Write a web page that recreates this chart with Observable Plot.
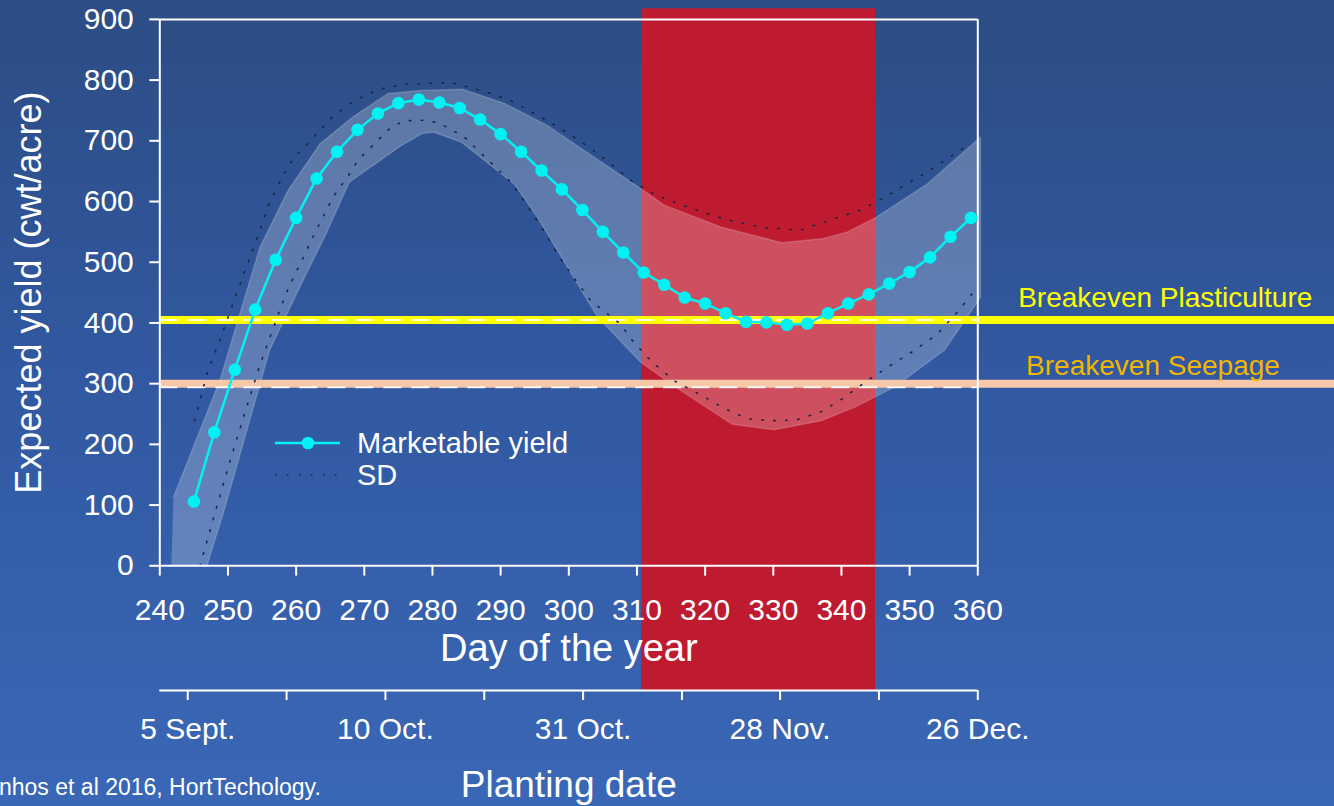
<!DOCTYPE html>
<html>
<head>
<meta charset="utf-8">
<script src="https://cdn.jsdelivr.net/npm/d3@7"></script>
<script src="https://cdn.jsdelivr.net/npm/@observablehq/plot@0.6"></script>
<style>
  html, body { margin: 0; padding: 0; }
  body {
    width: 1334px; height: 806px; overflow: hidden; position: relative;
    background: linear-gradient(180deg, #2c4d84 0%, #3158a0 45%, #3a67b6 100%);
    font-family: "Liberation Sans", Arial, Helvetica, sans-serif;
  }
  #chart { position: absolute; left: 0; top: 0; }
  #legend { position: absolute; left: 275px; top: 427px; color: white; font-size: 29px; }
  #legend .row { display: flex; align-items: center; height: 32px; }
  #legend svg { display: block; margin-right: 17px; }
  #caption { position: absolute; left: -1px; top: 774px; color: white; font-size: 23px; line-height: 26px; white-space: nowrap; }
</style>
</head>
<body>
<div id="chart"></div>
<div id="legend">
  <div class="row">
    <svg width="65" height="32"><line x1="0" y1="16" x2="65" y2="16" stroke="#00F2F2" stroke-width="2.5"/><circle cx="33" cy="16" r="6.3" fill="#00F2F2"/></svg>
    <span>Marketable yield</span>
  </div>
  <div class="row">
    <svg width="65" height="32"><line x1="0" y1="16" x2="62" y2="16" stroke="#1b2540" stroke-width="1.6" stroke-dasharray="1.5,10.5"/></svg>
    <span>SD</span>
  </div>
</div>
<div id="caption">nhos et al 2016, HortTechology.</div>
<script>
// ---- data ----
const days = [245,248,251,254,257,260,263,266,269,272,275,278,281,284,287,290,293,296,299,302,305,308,311,314,317,320,323,326,329,332,335,338,341,344,347,350,353,356,359];
const marketableYield = [106,220,323,422,504,573,638,682,718,745,762,768,763,754,735,711,682,651,620,586,550,516,483,463,442,432,416,402,401,397,399,416,432,447,465,484,508,542,573];

const sdUpperDays   = [245.1,247.0,249.0,251.0,252.9,254.5,256.0,257.7,259.7,262.1,265.0,268.5,272.1,275.8,282.7,284.4,288.0,291.5,295.1,298.5,302.0,305.6,309.2,312.7,318.1,323.2,328.6,334.0,337.4,342.8,346.2,349.6,353.3,357.0,358.7];
const sdUpperValues = [239,319,378,440,498,547,596,634,673,700,736,766,785,793,796,791,780,766,744,722,697,667,634,611,588,570,557,553,566,586,606,629,654,681,694];

const sdLowerDays   = [245.9,248.2,250.2,252.4,254.6,256.5,258.5,260.1,262.4,264.4,265.4,266.6,267.8,269.0,270.5,272.2,273.9,275.9,279.2,281.2,284.6,288.0,291.5,294.1,296.3,298.3,300.7,303.2,307.6,309.1,312.0,315.4,319.1,322.5,326.2,329.6,333.3,336.9,340.1,343.8,347.2,350.6,354.1,357.0,358.4,359.9];
const sdLowerValues = [0,91,169,249,328,387,448,486,540,585,607,626,645,667,684,703,722,733,734,728,707,670,632,590,552,514,475,437,398,374,338,305,283,261,242,239,240,253,275,305,330,354,382,418,437,459];

const bandUpperDays   = [242.0,244.9,248.8,254.7,258.8,263.5,268.4,273.5,278.1,284.4,290.5,296.9,303.7,310.6,314.0,322.3,331.3,337.4,340.9,344.8,352.6,360.4];
const bandUpperValues = [113,195,305,525,618,695,740,778,783,785,762,725,673,621,594,558,532,539,550,572,629,706];
const bandLowerDays   = [241.7,246.9,249.3,256.1,261.0,264.4,267.8,275.4,278.5,280.2,284.2,292.0,295.4,299.8,304.2,310.6,316.4,324.0,330.1,337.0,341.9,347.7,355.1,360.4];
const bandLowerValues = [0,0,86,355,470,547,632,692,712,714,698,629,574,492,410,335,289,233,224,239,261,294,355,442];

const dayTicks = [240,250,260,270,280,290,300,310,320,330,340,350,360];
const yTicks = [0,100,200,300,400,500,600,700,800,900];
const plantTickDays = [244.1,258.6,273.1,287.6,302.1,316.6,331.0,345.5,360.0];
const plantLabelDays = [244.1,273.1,302.1,331.0,360.0];
const plantLabels = ["5 Sept.","10 Oct.","31 Oct.","28 Nov.","26 Dec."];

const breakevenPlasticulture = 405;
const breakevenSeepage = 300;
const refDashes = [405, 294];
const windowStart = 310.7, windowEnd = 345.0;

// ---- derived tables ----
const yieldData = days.map((d, i) => ({day: d, value: marketableYield[i]}));
const sdUpper = sdUpperDays.map((d, i) => ({day: d, value: sdUpperValues[i]}));
const sdLower = sdLowerDays.map((d, i) => ({day: d, value: sdLowerValues[i]}));
const bandPolygon = [
  ...bandUpperDays.map((d, i) => ({day: d, value: bandUpperValues[i]})),
  ...bandLowerDays.map((d, i) => ({day: d, value: bandLowerValues[i]})).reverse()
];
const plantLabelMap = new Map(plantLabelDays.map((d, i) => [d, plantLabels[i]]));

const yDomain = [-205.4, 931.1];
const white = "white";
const cyan = "#00F2F2";

const chart = Plot.plot({
  width: 1334,
  height: 806,
  marginLeft: 159.3,
  marginRight: 0,
  marginTop: 0,
  marginBottom: 116,
  style: {background: "transparent", color: "white", fontFamily: "Liberation Sans, Arial, sans-serif", overflow: "visible"},
  x: {domain: [240, 412.33]},
  y: {domain: yDomain},
  marks: [
    // planting window
    Plot.rect([{start: windowStart, end: windowEnd}], {x1: "start", x2: "end", y1: yDomain[0], y2: 917.5, fill: "#BE1B31"}),
    // SD band
    Plot.line(bandPolygon, {x: "day", y: "value", fill: "white", fillOpacity: 0.23, stroke: "white", strokeOpacity: 0.18, strokeWidth: 1.5}),
    // breakeven lines
    Plot.ruleY([breakevenPlasticulture], {stroke: "#FFFF00", strokeWidth: 8}),
    Plot.ruleY([breakevenSeepage], {stroke: "#F6C8AA", strokeWidth: 8}),
    Plot.ruleY(refDashes, {x1: 240, x2: 360, stroke: "white", strokeWidth: 2, strokeOpacity: 0.9, strokeDasharray: "18,10"}),
    // SD dotted lines
    Plot.line(sdUpper, {x: "day", y: "value", stroke: "#1b2540", strokeWidth: 1.6, strokeDasharray: "1.5,10.5"}),
    Plot.line(sdLower, {x: "day", y: "value", stroke: "#1b2540", strokeWidth: 1.6, strokeDasharray: "1.5,10.5"}),
    // frame
    Plot.ruleX([240, 360], {y1: 0, y2: 900, stroke: white, strokeWidth: 2}),
    Plot.ruleY([900], {x1: 240, x2: 360, stroke: white, strokeWidth: 2}),
    Plot.ruleY([0], {x1: 240, x2: 360, stroke: white, strokeWidth: 2}),
    // y axis
    Plot.axisY({ticks: yTicks, tickSize: 10, tickPadding: 16, fontSize: 30, color: white, strokeWidth: 2, label: null}),
    // day-of-year axis (at y = 0)
    Plot.ruleX(dayTicks, {x: d => d, y1: 0, y2: -17, stroke: white, strokeWidth: 2}),
    Plot.text(dayTicks, {x: d => d, y: 0, dy: 45, text: d => String(d), fontSize: 30, fill: white}),
    Plot.text(["Day of the year"], {x: 300, y: 0, dy: 83, text: d => d, fontSize: 38, fill: white}),
    // planting date axis (frame bottom)
    Plot.ruleY([yDomain[0]], {x1: 240, x2: 360, stroke: white, strokeWidth: 2}),
    Plot.axisX({ticks: plantTickDays, tickSize: 10, tickFormat: () => "", color: white, strokeWidth: 2, label: null}),
    Plot.axisX({ticks: plantLabelDays, tickSize: 0, tickPadding: 27, tickFormat: d => plantLabelMap.get(d), fontSize: 30, color: white, label: null}),
    Plot.text(["Planting date"], {x: 300, y: yDomain[0], dy: 95, text: d => d, fontSize: 37, fill: white}),
    // y title
    Plot.text(["Expected yield (cwt/acre)"], {frameAnchor: "left", y: 450, dx: -130, rotate: -90, textAnchor: "middle", text: d => d, fontSize: 36, fill: white}),
    // marketable yield
    Plot.line(yieldData, {x: "day", y: "value", stroke: cyan, strokeWidth: 2.5}),
    Plot.dot(yieldData, {x: "day", y: "value", r: 6.3, fill: cyan}),
    // breakeven labels
    Plot.text(["Breakeven Plasticulture"], {x: 387.5, y: breakevenPlasticulture, dy: -21.5, text: d => d, fontSize: 28, fill: "#FFFF00"}),
    Plot.text(["Breakeven Seepage"], {x: 385.7, y: breakevenSeepage, dy: -17.5, text: d => d, fontSize: 28, fill: "#F2B600"})
  ]
});
document.getElementById("chart").appendChild(chart);
</script>
</body>
</html>
